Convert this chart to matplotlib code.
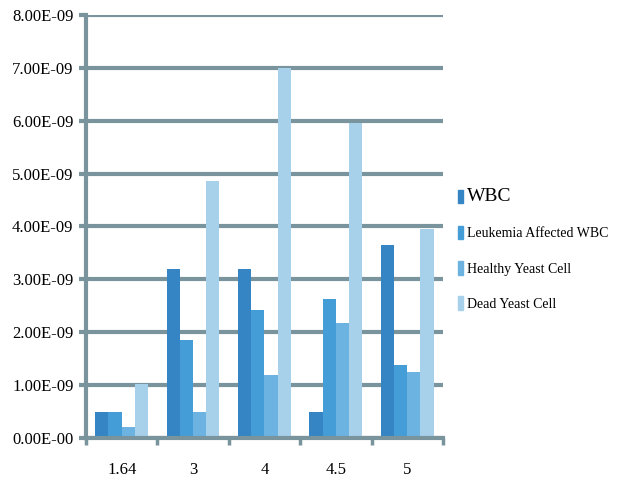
import matplotlib

matplotlib.use("Agg")
import matplotlib.pyplot as plt
import numpy as np
from matplotlib.patches import Rectangle

categories = ["1.64", "3", "4", "4.5", "5"]
series_names = ["WBC", "Leukemia Affected WBC", "Healthy Yeast Cell", "Dead Yeast Cell"]
wbc = [0.50e-9, 3.20e-9, 3.20e-9, 0.50e-9, 3.65e-9]
leukemia_wbc = [0.50e-9, 1.85e-9, 2.42e-9, 2.62e-9, 1.38e-9]
healthy_yeast = [0.20e-9, 0.50e-9, 1.20e-9, 2.18e-9, 1.25e-9]
dead_yeast = [1.02e-9, 4.85e-9, 7.00e-9, 5.95e-9, 3.95e-9]
y_ticks = [0, 1e-9, 2e-9, 3e-9, 4e-9, 5e-9, 6e-9, 7e-9, 8e-9]
y_labels = ["0.00E-00", "1.00E-09", "2.00E-09", "3.00E-09", "4.00E-09",
            "5.00E-09", "6.00E-09", "7.00E-09", "8.00E-09"]

colors = ["#3585c5", "#459dd7", "#6db3e2", "#a7d0eb"]
grid_c = "#7a949d"

plt.rcParams["font.family"] = ["Liberation Serif", "DejaVu Serif"]

fig = plt.figure(figsize=(6.23, 4.80), dpi=100)
ax = fig.add_axes([0.138, 0.0875, 0.573, 0.8815])

x = np.arange(len(categories))
w = 0.185
data = [wbc, leukemia_wbc, healthy_yeast, dead_yeast]
for i, vals in enumerate(data):
    ax.bar(x + (i - 1.5) * w, vals, width=w, color=colors[i], zorder=3,
           linewidth=0)

ax.set_xlim(-0.5, len(categories) - 0.5)
ax.set_ylim(0, 8e-9)
ax.set_yticks(y_ticks)
ax.set_yticklabels(y_labels, fontsize=12)
ax.set_xticks(x)
ax.set_xticklabels(categories, fontsize=12)
ax.set_xticks(np.arange(-0.5, len(categories)), minor=True)
ax.tick_params(axis="x", which="major", length=0, pad=17)
ax.tick_params(axis="x", which="minor", length=5, width=2.5, color=grid_c,
               direction="out")
ax.tick_params(axis="y", length=5, width=3, color=grid_c, pad=4)

ax.yaxis.grid(True, color=grid_c, linewidth=3, zorder=1)
ax.set_axisbelow(True)
for s in ["top", "right"]:
    ax.spines[s].set_visible(False)
ax.spines["left"].set_color(grid_c)
ax.spines["left"].set_linewidth(3)
ax.spines["bottom"].set_color(grid_c)
ax.spines["bottom"].set_linewidth(3)
ax.spines["bottom"].set_zorder(4)

handles = [Rectangle((0, 0), 1, 1, color=c) for c in colors]
leg = fig.legend(handles, series_names, loc="upper left",
                 bbox_to_anchor=(0.715, 0.634), frameon=False,
                 handlelength=0.35, handleheight=1.1, handletextpad=0.3,
                 labelspacing=1.5, fontsize=10)
leg.get_texts()[0].set_fontsize(14)

fig.savefig("out.png", dpi=100)
